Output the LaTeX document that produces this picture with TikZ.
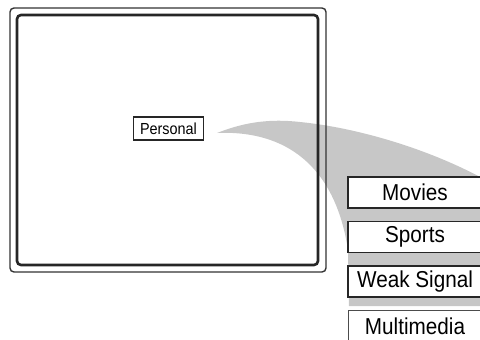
\documentclass[tikz,border=0pt]{standalone}
\usepackage{fontspec}
\setmainfont{Liberation Sans}
\newfontfamily\narrowsans[FakeStretch=0.9]{Liberation Sans}
\usetikzlibrary{positioning}

\begin{document}
\begin{tikzpicture}[x=1pt,y=-1pt,
    menubox/.style={draw=black!85,line width=1.6pt,fill=white,minimum width=134pt,minimum height=31pt,inner sep=0pt,font=\narrowsans\fontsize{23}{26}\selectfont},
    node distance=12pt]
                \useasboundingbox (0,0) rectangle (480,340);
                \clip (0,0) rectangle (480,340);
                \fill[black!22] (217,133) .. controls (240,124) and (265,118) .. (300,122) .. controls (360,128) and (430,150) .. (482,178) -- (482,306) -- (349,306) -- (348,250) .. controls (335,165) and (285,130) .. (217,133);
                \draw[line width=1.4pt,black!80,rounded corners=4pt] (10,8) rectangle (326,272);
                \draw[line width=2.6pt,black!85,rounded corners=4pt] (17,15) rectangle (318,265);
                \node[draw=black!85,line width=1.5pt,minimum width=70pt,minimum height=23pt,inner sep=0pt,font=\narrowsans\fontsize{16}{18}\selectfont] (personal) at (168.5,128.5) {Personal};
                \node[menubox] (movies) at (415,192.5) {Movies};
                \node[menubox,below=of movies] (sports) {Sports};
                \node[menubox,below=of sports] (weak) {Weak Signal};
                \node[menubox,below=of weak,draw=black!70,line width=1pt] (multimedia) {Multimedia};
            \end{tikzpicture}
\end{document}
